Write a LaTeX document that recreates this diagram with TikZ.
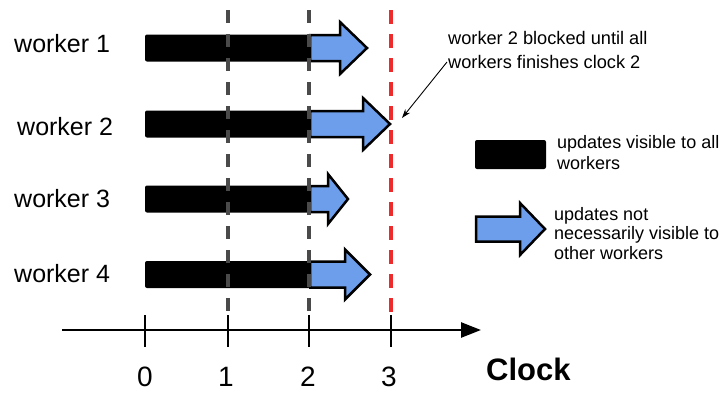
\documentclass[tikz,border=0pt]{standalone}
\usepackage{fontspec}
\setmainfont{Liberation Sans}
\usetikzlibrary{arrows.meta}
\definecolor{updblue}{HTML}{6D9EEB}
\definecolor{clkred}{HTML}{EE2A2A}
\definecolor{clkgray}{HTML}{4A4A4A}
\newcommand{\updrow}[4]{% center y, head start x, tip x, head half-height
  \fill[black, rounded corners=2pt] (145,#1-13.5) rectangle (310,#1+13.5);
  \draw[updarrow] (310,#1-13) -- (#2,#1-13) -- (#2,#1-#4) -- (#3,#1) -- (#2,#1+#4) -- (#2,#1+13) -- (310,#1+13) -- cycle;
}
\begin{document}
\begin{tikzpicture}[x=1pt,y=-1pt,
  wlabel/.style={anchor=west, inner sep=0pt, font=\fontsize{25}{30}\selectfont},
  small/.style={anchor=north west, inner sep=0pt, align=left},
  updarrow/.style={fill=updblue, draw=black, line width=2.5pt, line join=miter},
  gdash/.style={draw=clkgray, line width=3.2pt, dash pattern=on 13pt off 11pt},
  rdash/.style={draw=clkred, line width=3.2pt, dash pattern=on 14pt off 10pt},
  tick/.style={line width=2.5pt},
  num/.style={inner sep=0pt, font=\fontsize{28}{32}\selectfont}]
\useasboundingbox (0,0) rectangle (725,392);
% worker labels
\node[wlabel] (w1) at (14,44) {worker 1};
\node[wlabel] (w2) at (17,127) {worker 2};
\node[wlabel] (w3) at (14,199) {worker 3};
\node[wlabel] (w4) at (14,274) {worker 4};
% bars
\updrow{48}{340}{367}{26}
\updrow{124}{363}{390}{26}
\updrow{199}{328}{348}{25}
\updrow{274.5}{345}{370}{25}
% dashed clock lines
\draw[gdash] (228,10) -- (228,315);
\draw[gdash] (309,10) -- (309,315);
\draw[rdash] (391,10) -- (391,315);
% axis
\coordinate (axs) at (62,330);
\coordinate (axe) at (481,330);
\draw[line width=2.5pt, -{Triangle[length=20pt,width=15pt]}] (axs) -- (axe);
\foreach \x in {145,228,309,391} \draw[tick] (\x,315) -- (\x,347);
\node[num] (n0) at (145,377) {0};
\node[num] (n1) at (226,377) {1};
\node[num] (n2) at (308,377) {2};
\node[num] (n3) at (389,377) {3};
\node[inner sep=0pt, anchor=west, font=\fontsize{31}{34}\selectfont\bfseries] (clk) at (486,369) {Clock};
% annotation
\node[small, font=\fontsize{18.2}{24}\selectfont] (note) at (448,31) {worker 2 blocked until all\\workers finishes clock 2};
\coordinate (nstart) at (447,62);
\coordinate (blk) at (402,118);
\draw[line width=0.9pt, -{Stealth[length=9pt,width=6pt]}] (nstart) -- (blk);
% legend
\fill[black, rounded corners=2pt] (475,140) rectangle (546,169);
\node[small, font=\fontsize{18}{21}\selectfont] (lg1) at (557,135) {updates visible to all\\workers};
\draw[updarrow] (476,216.5) -- (520,216.5) -- (520,203) -- (545,229) -- (520,255) -- (520,241.5) -- (476,241.5) -- cycle;
\node[small, font=\fontsize{18}{19.5}\selectfont] (lg2) at (554,207) {updates not\\necessarily visible to\\other workers};
\end{tikzpicture}
\end{document}
